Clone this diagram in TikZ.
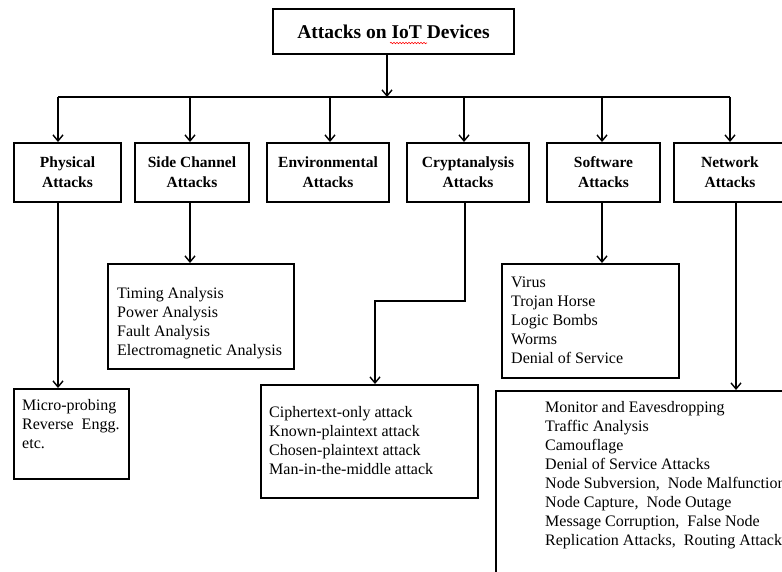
\documentclass[tikz,border=0pt]{standalone}
\usepackage{fontspec}
\setmainfont{Liberation Serif}
\usetikzlibrary{arrows.meta,decorations.pathmorphing}
\begin{document}
\begin{tikzpicture}[x=1pt,y=-1pt,
  box/.style={draw, line width=1.8pt, inner sep=0pt, anchor=north west},
  cat/.style={box, line width=2pt, font=\fontsize{15.5}{20}\selectfont\bfseries, align=center, minimum height=59pt},
  list/.style={anchor=north west, inner sep=0pt, align=left, font=\fontsize{16}{19}\selectfont},
  conn/.style={line width=1.4pt},
  arr/.style={conn, -{Straight Barb[length=6pt,width=10pt,line width=1.4pt]}}]
\useasboundingbox (0,0) rectangle (782,571);

% title
\node[box, line width=2pt, minimum width=241pt, minimum height=45pt,
      font=\fontsize{19.5}{24}\selectfont\bfseries] (title) at (272,8) {Attacks on IoT Devices};
\draw[red, line width=0.6pt, decorate, decoration={snake, amplitude=0.7pt, segment length=3pt}] (390,43) -- (427,43);

% categories
\node[cat, minimum width=107pt] (phys)  at (13,142)  {Physical\\Attacks};
\node[cat, minimum width=114pt] (side)  at (134,142) {Side Channel\\Attacks};
\node[cat, minimum width=122pt] (env)   at (266,142) {Environmental\\Attacks};
\node[cat, minimum width=122pt] (crypt) at (406,142) {Cryptanalysis\\Attacks};
\node[cat, minimum width=113pt] (soft)  at (546,142) {Software\\Attacks};
\node[cat, minimum width=112pt] (net)   at (673,142) {Network\\Attacks};

% detail boxes
\node[box, minimum width=115pt, minimum height=90pt]  (microbox) at (13,388)  {};
\node[box, minimum width=186pt, minimum height=105pt] (sidebox)  at (107,263) {};
\node[box, minimum width=217pt, minimum height=113pt] (cryptbox) at (260,384) {};
\node[box, minimum width=177pt, minimum height=114pt] (softbox)  at (501,263) {};
\node[box, minimum width=300pt, minimum height=200pt] (netbox)   at (495,390) {};

% detail texts
\node[list] (microtxt) at (22,399)  {Micro-probing\\Reverse \ Engg.\\etc.};
\node[list] (sidetxt)  at (117,287) {Timing Analysis\\Power Analysis\\Fault Analysis\\Electromagnetic Analysis};
\node[list] (crypttxt) at (269,406) {Ciphertext-only attack\\Known-plaintext attack\\Chosen-plaintext attack\\Man-in-the-middle attack};
\node[list] (softtxt)  at (511,277) {Virus\\Trojan Horse\\Logic Bombs\\Worms\\Denial of Service};
\node[list] (nettxt)   at (545,401) {Monitor and Eavesdropping\\Traffic Analysis\\Camouflage\\Denial of Service Attacks\\Node Subversion, \ Node Malfunction\\Node Capture, \ Node Outage\\Message Corruption, \ False Node\\Replication Attacks, \ Routing Attacks};

% bus
\coordinate (bt) at (387,97);
\coordinate (b1) at (58,97);
\coordinate (b2) at (190,97);
\coordinate (b3) at (330,97);
\coordinate (b4) at (464,97);
\coordinate (b5) at (602,97);
\coordinate (b6) at (730,97);
\draw[arr] (bt |- title.south) -- (bt);
\draw[conn] (b1) -- (b6);
\foreach \b/\n in {b1/phys,b2/side,b3/env,b4/crypt,b5/soft,b6/net}
  \draw[arr] (\b) -- (\b |- \n.north);

% lower connectors
\draw[arr] (b1 |- phys.south) -- (b1 |- microbox.north);
\draw[arr] (b2 |- side.south) -- (b2 |- sidebox.north);
\coordinate (c1) at (465,301);
\coordinate (c2) at (375,301);
\draw[arr] (c1 |- crypt.south) -- (c1) -- (c2) -- (c2 |- cryptbox.north);
\draw[arr] (b5 |- soft.south) -- (b5 |- softbox.north);
\coordinate (n1) at (736,300);
\draw[arr] (n1 |- net.south) -- (n1 |- netbox.north);
\end{tikzpicture}
\end{document}
